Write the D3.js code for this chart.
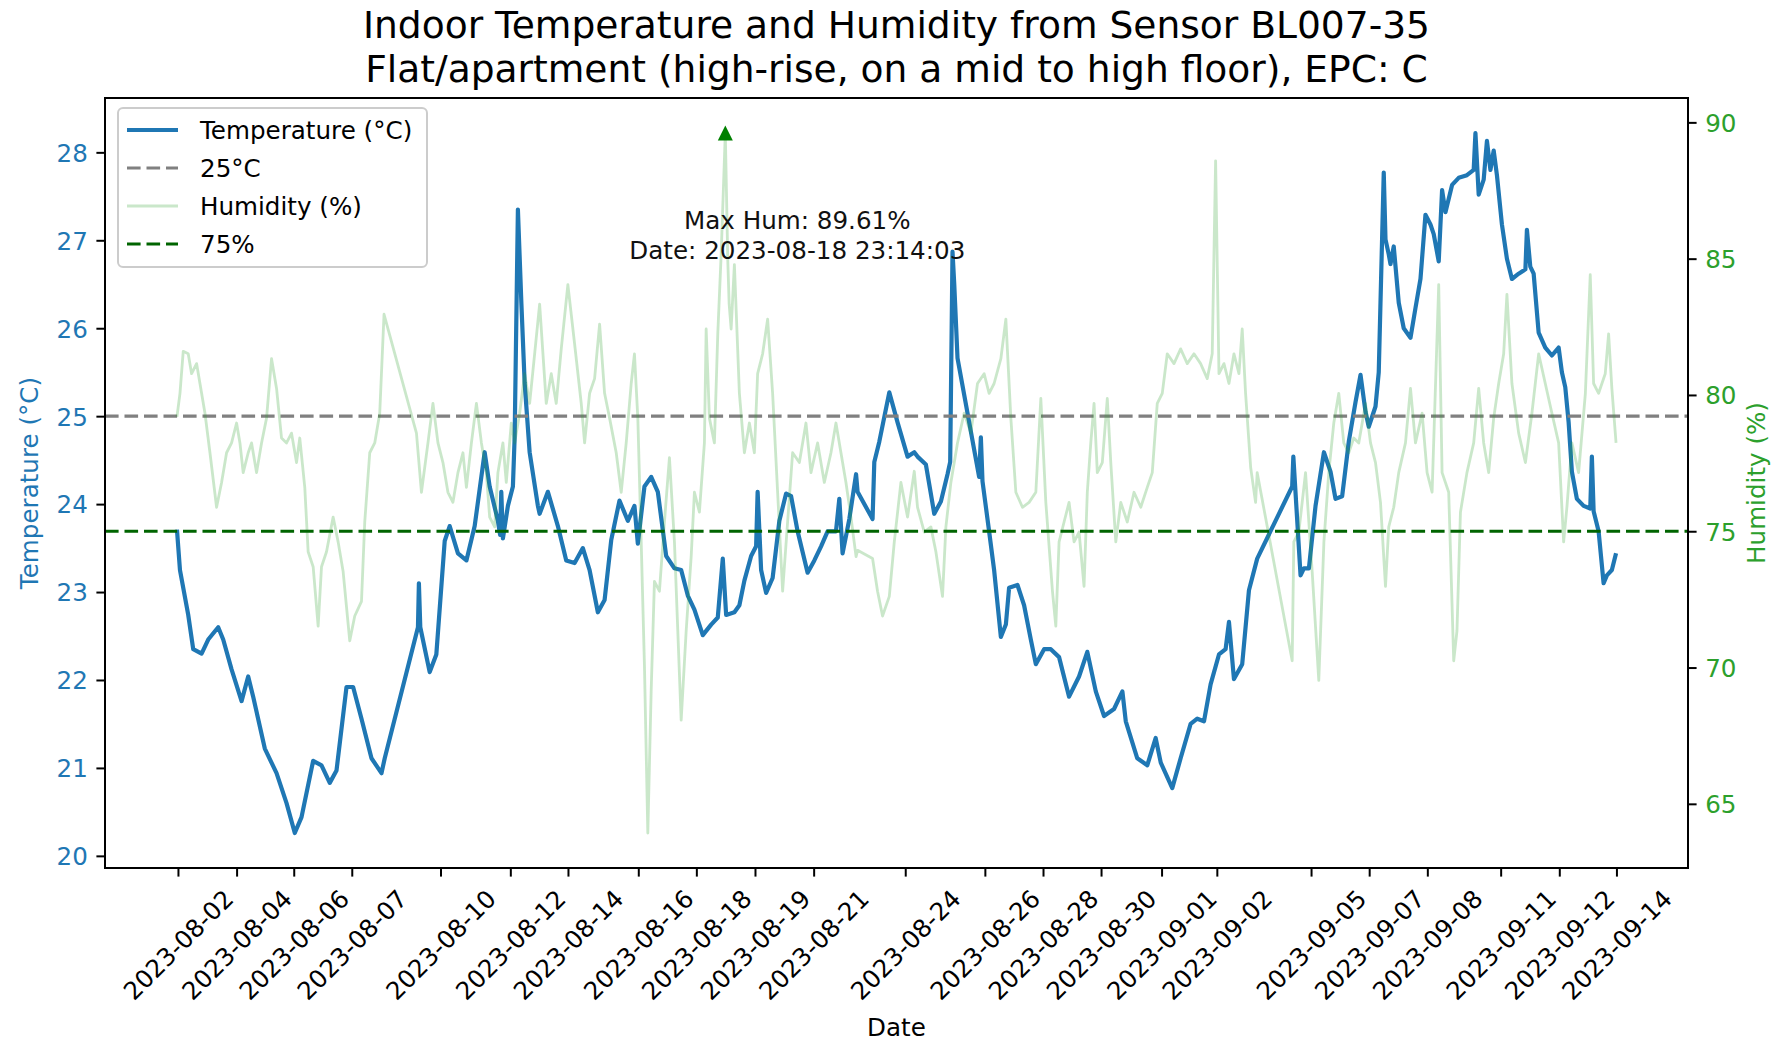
<!DOCTYPE html>
<html><head><meta charset="utf-8">
<script src="https://cdn.jsdelivr.net/npm/d3@7"></script>
<style>
body{margin:0;background:#fff}
svg{display:block}
text{font-family:"DejaVu Sans",sans-serif}
</style>
</head><body>
<svg id="chart" width="1772" height="1041"></svg>
<script>
// ---------------- data ----------------
const titleLines = ["Indoor Temperature and Humidity from Sensor BL007-35",
                    "Flat/apartment (high-rise, on a mid to high floor), EPC: C"];
const year = "2023";

// temperature (°C) readings: [MM-DD HH:MM, value]
const temperature = [
["08-02 14:00",23.71],["08-02 16:10",23.25],["08-02 22:05",22.74],["08-03 01:40",22.35],["08-03 07:40",22.30],
["08-03 12:25",22.46],["08-03 19:35",22.60],["08-03 23:10",22.46],["08-04 05:10",22.12],["08-04 12:20",21.76],
["08-04 17:05",22.04],["08-04 20:40",21.81],["08-05 05:00",21.22],["08-05 13:25",20.94],["08-05 20:35",20.60],
["08-06 02:30",20.26],["08-06 07:20",20.44],["08-06 15:40",21.08],["08-06 21:40",21.03],["08-07 03:35",20.83],
["08-07 08:25",20.97],["08-07 15:35",21.92],["08-07 20:20",21.92],["08-08 02:20",21.56],["08-08 09:30",21.11],
["08-08 16:40",20.94],["08-08 19:00",21.11],["08-09 18:50",22.60],["08-09 19:30",23.10],["08-09 20:30",22.60],
["08-10 03:15",22.09],["08-10 08:00",22.29],["08-10 14:00",23.58],["08-10 17:35",23.75],["08-10 23:30",23.44],
["08-11 05:35",23.36],["08-11 11:30",23.75],["08-11 18:40",24.59],["08-11 22:15",24.20],["08-12 04:10",23.81],
["08-12 05:45",23.65],["08-12 06:35",24.14],["08-12 07:45",23.61],["08-12 11:20",23.98],["08-12 14:55",24.20],
["08-12 16:10",24.76],["08-12 18:30",27.35],["08-12 21:00",26.28],["08-12 23:20",25.38],["08-13 02:55",24.59],
["08-13 08:50",23.98],["08-13 10:05",23.89],["08-13 16:00",24.14],["08-13 23:10",23.75],["08-14 05:10",23.36],
["08-14 11:10",23.33],["08-14 17:05",23.50],["08-14 21:55",23.25],["08-15 03:50",22.77],["08-15 08:40",22.91],
["08-15 13:25",23.59],["08-15 19:20",24.04],["08-16 01:20",23.81],["08-16 06:05",23.98],["08-16 08:30",23.55],
["08-16 13:15",24.20],["08-16 18:05",24.31],["08-16 22:50",24.14],["08-17 04:50",23.41],["08-17 10:45",23.27],
["08-17 15:35",23.25],["08-17 20:20",22.96],["08-18 01:05",22.80],["08-18 07:05",22.51],["08-18 13:05",22.63],
["08-18 17:50",22.71],["08-18 21:25",23.38],["08-18 23:50",22.74],["08-19 05:45",22.77],["08-19 09:20",22.85],
["08-19 12:55",23.13],["08-19 17:45",23.41],["08-19 21:20",23.52],["08-19 22:25",24.14],["08-20 00:55",23.25],
["08-20 04:30",22.99],["08-20 09:10",23.16],["08-20 14:00",23.81],["08-20 18:50",24.12],["08-20 22:25",24.09],
["08-21 03:05",23.69],["08-21 10:15",23.22],["08-21 15:05",23.36],["08-21 19:55",23.52],["08-22 00:35",23.69],
["08-22 06:35",23.69],["08-22 09:00",24.06],["08-22 11:20",23.44],["08-22 16:10",23.83],["08-22 21:00",24.34],
["08-22 22:05",24.14],["08-23 08:50",23.83],["08-23 10:05",24.48],["08-23 13:40",24.71],["08-23 20:50",25.27],
["08-24 02:45",24.93],["08-24 09:55",24.54],["08-24 14:45",24.59],["08-24 17:05",24.54],["08-24 23:05",24.45],
["08-25 05:05",23.89],["08-25 09:50",24.03],["08-25 14:35",24.34],["08-25 16:30",24.48],["08-25 18:10",26.87],
["08-25 19:25",26.50],["08-25 21:45",25.66],["08-26 13:15",24.31],["08-26 14:30",24.76],["08-26 15:40",24.26],
["08-26 20:25",23.69],["08-27 00:00",23.25],["08-27 04:50",22.49],["08-27 08:25",22.63],["08-27 10:45",23.05],
["08-27 16:45",23.08],["08-27 21:30",22.85],["08-28 02:20",22.46],["08-28 05:55",22.18],["08-28 11:50",22.35],
["08-28 16:40",22.35],["08-28 22:35",22.26],["08-29 05:45",21.81],["08-29 12:55",22.04],["08-29 18:50",22.32],
["08-30 00:55",21.87],["08-30 06:50",21.59],["08-30 14:00",21.67],["08-30 20:00",21.87],["08-30 22:25",21.53],
["08-31 06:40",21.11],["08-31 13:50",21.03],["08-31 19:50",21.34],["08-31 23:30",21.06],["09-01 07:45",20.77],
["09-01 13:45",21.11],["09-01 20:55",21.50],["09-02 01:40",21.56],["09-02 06:30",21.53],["09-02 11:15",21.95],
["09-02 17:15",22.29],["09-02 22:00",22.35],["09-03 00:25",22.66],["09-03 04:00",22.01],["09-03 09:55",22.18],
["09-03 14:45",23.02],["09-03 20:40",23.38],["09-04 21:45",24.20],["09-04 22:35",24.54],["09-05 03:45",23.19],
["09-05 06:10",23.27],["09-05 09:45",23.27],["09-05 14:30",23.98],["09-05 20:30",24.59],["09-06 01:15",24.37],
["09-06 04:50",24.06],["09-06 09:35",24.09],["09-06 14:20",24.71],["09-06 19:10",25.16],["09-06 22:45",25.47],
["09-07 02:20",25.05],["09-07 04:40",24.88],["09-07 09:30",25.11],["09-07 11:50",25.50],["09-07 15:25",27.77],
["09-07 16:40",27.01],["09-07 19:00",26.84],["09-07 20:15",26.73],["09-07 22:35",26.93],["09-08 02:10",26.29],
["09-08 05:45",26.00],["09-08 10:35",25.89],["09-08 14:10",26.23],["09-08 17:45",26.56],["09-08 21:20",27.29],
["09-09 00:55",27.18],["09-09 03:15",27.07],["09-09 06:50",26.76],["09-09 09:15",27.57],["09-09 11:40",27.32],
["09-09 16:25",27.63],["09-09 21:10",27.71],["09-10 03:05",27.74],["09-10 07:55",27.80],["09-10 09:10",28.22],
["09-10 11:30",27.52],["09-10 15:05",27.69],["09-10 17:25",28.13],["09-10 19:55",27.80],["09-10 22:15",28.02],
["09-11 00:35",27.74],["09-11 04:10",27.18],["09-11 07:45",26.79],["09-11 11:20",26.56],["09-11 16:10",26.62],
["09-11 21:00",26.67],["09-11 22:05",27.12],["09-12 00:30",26.70],["09-12 02:55",26.62],["09-12 06:30",25.95],
["09-12 11:15",25.78],["09-12 16:00",25.69],["09-12 20:50",25.78],["09-12 23:10",25.50],["09-13 01:35",25.33],
["09-13 04:00",24.93],["09-13 06:20",24.37],["09-13 09:55",24.06],["09-13 14:45",23.98],["09-13 19:30",23.95],
["09-13 20:40",24.54],["09-13 21:55",23.92],["09-14 01:30",23.69],["09-14 05:05",23.10],["09-14 07:25",23.19],
["09-14 11:00",23.25],["09-14 14:00",23.44]
];

// relative humidity (%) readings: [MM-DD HH:MM(:SS), value]
const humidity = [
["08-02 14:00",79.20],["08-02 16:10",80.06],["08-02 18:30",81.60],["08-02 22:05",81.51],["08-03 00:30",80.78],
["08-03 04:05",81.15],["08-03 06:30",80.42],["08-03 10:05",79.33],["08-03 13:40",77.88],["08-03 18:25",75.88],
["08-03 22:00",76.79],["08-04 01:35",77.88],["08-04 05:10",78.24],["08-04 08:45",78.97],["08-04 11:10",78.24],
["08-04 13:30",77.15],["08-04 17:05",77.88],["08-04 19:30",78.24],["08-04 23:05",77.15],["08-05 02:40",78.24],
["08-05 06:15",79.15],["08-05 09:50",81.33],["08-05 13:25",80.24],["08-05 17:00",78.42],["08-05 20:35",78.24],
["08-06 00:10",78.60],["08-06 03:45",77.52],["08-06 06:05",78.42],["08-06 09:40",76.61],["08-06 12:05",74.25],
["08-06 15:40",73.70],["08-06 19:15",71.52],["08-06 21:40",73.70],["08-07 01:15",74.25],["08-07 06:00",75.52],
["08-07 09:35",74.61],["08-07 13:10",73.52],["08-07 17:55",70.98],["08-07 21:30",71.89],["08-08 02:20",72.43],
["08-08 04:40",75.34],["08-08 08:15",77.88],["08-08 11:50",78.24],["08-08 15:25",79.33],["08-08 18:30",82.96],
["08-09 17:45",78.60],["08-09 21:20",76.43],["08-10 02:00",78.24],["08-10 05:35",79.69],["08-10 09:10",78.24],
["08-10 12:45",77.52],["08-10 16:20",76.43],["08-10 19:55",76.06],["08-10 23:30",77.15],["08-11 03:05",77.88],
["08-11 05:35",76.61],["08-11 09:10",78.24],["08-11 12:45",79.69],["08-11 16:20",78.24],["08-11 19:50",77.15],
["08-11 22:15",75.52],["08-12 01:50",75.16],["08-12 04:10",77.15],["08-12 07:45",78.24],["08-12 10:10",76.79],
["08-12 13:45",78.97],["08-12 16:10",78.24],["08-12 19:45",79.33],["08-12 23:20",80.78],["08-13 02:55",79.69],
["08-13 06:30",81.51],["08-13 10:05",83.33],["08-13 14:50",79.69],["08-13 18:25",80.78],["08-13 22:00",79.69],
["08-14 01:35",81.69],["08-14 06:20",84.05],["08-14 11:10",81.87],["08-14 15:55",79.69],["08-14 18:20",78.24],
["08-14 21:55",80.06],["08-15 01:30",80.60],["08-15 05:05",82.60],["08-15 08:40",80.06],["08-15 12:15",79.15],
["08-15 17:00",77.88],["08-15 20:35",76.43],["08-16 00:10",78.24],["08-16 03:45",80.42],["08-16 06:05",81.51],
["08-16 08:30",79.15],["08-16 10:55",74.61],["08-16 13:15",70.07],["08-16 15:40",63.93],["08-16 18:05",69.17],
["08-16 20:25",73.16],["08-17 00:00",72.80],["08-17 03:35",75.34],["08-17 07:10",77.70],["08-17 10:45",74.61],
["08-17 15:35",68.07],["08-17 19:10",71.34],["08-17 22:45",74.07],["08-18 01:05",76.43],["08-18 04:40",75.70],
["08-18 08:15",78.24],["08-18 09:30",82.42],["08-18 11:50",79.15],["08-18 15:25",78.24],["08-18 17:50",82.24],
["08-18 20:15",85.14],["08-18 23:14:03",89.61],["08-19 01:00",84.96],["08-19 02:00",83.33],["08-19 03:25",82.42],
["08-19 05:45",84.78],["08-19 09:20",80.06],["08-19 12:55",77.88],["08-19 16:30",78.97],["08-19 20:05",77.88],
["08-19 22:25",80.78],["08-20 02:00",81.51],["08-20 05:35",82.78],["08-20 09:10",80.06],["08-20 12:45",76.43],
["08-20 16:20",72.80],["08-20 19:55",75.34],["08-20 23:30",77.88],["08-21 04:20",77.52],["08-21 09:05",78.97],
["08-21 12:40",77.15],["08-21 17:25",78.24],["08-21 22:15",76.79],["08-22 03:00",77.88],["08-22 06:35",78.97],
["08-22 10:10",77.88],["08-22 13:45",76.79],["08-22 17:20",75.52],["08-22 21:00",74.07],["08-22 22:05",74.30],
["08-23 08:50",74.00],["08-23 12:25",72.80],["08-23 16:00",71.89],["08-23 20:50",72.61],["08-24 00:25",74.61],
["08-24 05:10",76.79],["08-24 09:55",75.52],["08-24 14:45",77.20],["08-24 17:05",75.88],["08-24 21:55",74.97],
["08-25 02:40",75.16],["08-25 06:15",74.25],["08-25 11:00",72.61],["08-25 13:25",75.16],["08-25 17:00",76.79],
["08-25 21:45",78.24],["08-26 02:30",79.33],["08-26 07:20",78.60],["08-26 12:05",80.42],["08-26 16:50",80.78],
["08-26 20:25",80.06],["08-27 00:00",80.42],["08-27 04:50",81.33],["08-27 08:25",82.78],["08-27 12:00",79.15],
["08-27 15:35",76.43],["08-27 20:20",75.88],["08-28 01:05",76.06],["08-28 05:55",76.43],["08-28 09:30",79.87],
["08-28 13:05",76.06],["08-28 17:50",72.80],["08-28 20:15",71.52],["08-28 22:35",74.61],["08-29 02:10",75.34],
["08-29 05:45",76.06],["08-29 09:20",74.61],["08-29 12:55",74.97],["08-29 16:30",72.98],["08-29 18:50",76.43],
["08-29 21:20",78.24],["08-29 23:40",79.69],["08-30 02:00",77.15],["08-30 05:35",77.52],["08-30 09:10",79.87],
["08-30 11:40",77.52],["08-30 15:15",74.61],["08-30 18:50",76.06],["08-30 23:30",75.34],["08-31 04:20",76.43],
["08-31 09:10",75.88],["08-31 13:50",76.61],["08-31 17:25",77.15],["08-31 21:00",79.69],["09-01 00:35",80.06],
["09-01 04:10",81.51],["09-01 09:00",81.15],["09-01 13:45",81.69],["09-01 18:30",81.15],["09-01 23:20",81.51],
["09-02 04:05",81.15],["09-02 08:50",80.60],["09-02 12:25",81.51],["09-02 14:50",88.59],["09-02 17:15",80.78],
["09-02 20:50",81.15],["09-03 00:25",80.42],["09-03 04:00",81.51],["09-03 07:35",80.78],["09-03 09:55",82.42],
["09-03 12:20",80.06],["09-03 16:00",77.33],["09-03 19:30",76.06],["09-03 20:40",77.15],["09-04 21:45",70.25],
["09-04 22:55",74.61],["09-05 02:30",74.97],["09-05 07:20",77.15],["09-05 12:05",73.52],["09-05 16:50",69.53],
["09-05 20:30",74.61],["09-06 00:00",77.15],["09-06 03:35",78.97],["09-06 07:10",80.06],["09-06 10:45",78.24],
["09-06 14:20",77.88],["09-06 17:55",78.42],["09-06 21:30",78.24],["09-07 02:20",79.69],["09-07 05:55",78.24],
["09-07 09:30",77.52],["09-07 13:05",76.06],["09-07 16:40",72.98],["09-07 19:00",75.16],["09-07 22:35",75.88],
["09-08 02:10",77.15],["09-08 07:00",78.24],["09-08 10:35",80.24],["09-08 14:10",78.24],["09-08 18:55",79.33],
["09-08 22:30",77.15],["09-09 02:05",76.43],["09-09 06:50",84.05],["09-09 09:15",77.15],["09-09 14:00",76.43],
["09-09 17:35",70.25],["09-09 19:55",71.34],["09-09 22:25",75.70],["09-10 03:05",77.15],["09-10 07:55",78.24],
["09-10 11:30",80.24],["09-10 15:05",78.24],["09-10 18:40",77.15],["09-10 22:15",79.15],["09-11 01:50",80.42],
["09-11 05:25",81.51],["09-11 07:45",83.69],["09-11 11:20",80.42],["09-11 16:10",78.60],["09-11 21:00",77.52],
["09-12 01:40",79.33],["09-12 06:30",81.51],["09-12 11:15",80.42],["09-12 16:00",79.33],["09-12 20:50",78.24],
["09-13 00:25",74.61],["09-13 02:45",75.88],["09-13 06:20",78.24],["09-13 11:10",77.15],["09-13 16:00",80.06],
["09-13 19:30",84.41],["09-13 21:55",80.42],["09-14 01:30",80.06],["09-14 06:15",80.78],["09-14 08:40",82.24],
["09-14 11:00",80.24],["09-14 14:00",78.24]
];

// x tick positions (sample timestamps) and their labels
const xTickTimes = ["08-02 14:43","08-04 08:46","08-06 01:45","08-07 19:22","08-10 10:59","08-12 13:04",
  "08-14 06:24","08-16 08:50","08-18 02:28","08-19 20:31","08-21 14:35","08-24 08:16","08-26 17:22",
  "08-28 11:04","08-30 04:41","09-01 00:05","09-02 15:43","09-05 11:17","09-07 04:58","09-08 22:40",
  "09-11 03:15","09-12 21:18","09-14 14:17"];
const tempTicks = [20,21,22,23,24,25,26,27,28];
const humTicks = [65,70,75,80,85,90];
const tempThreshold = 25;
const humThreshold = 75;
const legendLabels = ["Temperature (°C)","25°C","Humidity (%)","75%"];
const axisLabels = {x:"Date", yLeft:"Temperature (°C)", yRight:"Humidity (%)"};

// ---------------- layout ----------------
const W = 1772, H = 1041;
const L = 105, R = 1688, T = 98, B = 868;
const FS = 24.6;
const C = {blue:"#1f77b4", green:"#2ca02c", gray:"#808080", dark:"#006400", marker:"#008000"};
const dash = "13.6,5.9";

const p1 = d3.timeParse("%Y-%m-%d %H:%M:%S"), p2 = d3.timeParse("%Y-%m-%d %H:%M");
const parseT = s => p1(year + "-" + s) || p2(year + "-" + s);
const tData = temperature.map(d => ({t: parseT(d[0]), v: d[1]}));
const hData = humidity.map(d => ({t: parseT(d[0]), v: d[1]}));

function pad(ext) { const r = ext[1] - ext[0]; return [ext[0] - 0.05 * r, ext[1] + 0.05 * r]; }
const tExt = d3.extent(tData.concat(hData), d => d.t);
const span = tExt[1] - tExt[0];
const x = d3.scaleTime().domain([new Date(+tExt[0] - 0.05 * span), new Date(+tExt[1] + 0.05 * span)]).range([L, R]);
const yT = d3.scaleLinear().domain(pad(d3.extent(tData, d => d.v))).range([B, T]);
const yH = d3.scaleLinear().domain(pad(d3.extent(hData, d => d.v))).range([B, T]);

const svg = d3.select("#chart");
svg.append("rect").attr("width", W).attr("height", H).attr("fill", "#fff");
svg.append("clipPath").attr("id", "clip").append("rect").attr("x", L).attr("y", T).attr("width", R - L).attr("height", B - T);
const plot = svg.append("g").attr("clip-path", "url(#clip)");

// temperature line
plot.append("path").datum(tData)
  .attr("d", d3.line().x(d => x(d.t)).y(d => yT(d.v)))
  .attr("fill", "none").attr("stroke", C.blue).attr("stroke-width", 4.2).attr("stroke-linejoin", "round");
// 25°C line
plot.append("line").attr("x1", L).attr("x2", R).attr("y1", yT(tempThreshold)).attr("y2", yT(tempThreshold))
  .attr("stroke", C.gray).attr("stroke-width", 3.2).attr("stroke-dasharray", dash);
// humidity line
plot.append("path").datum(hData)
  .attr("d", d3.line().x(d => x(d.t)).y(d => yH(d.v)))
  .attr("fill", "none").attr("stroke", C.green).attr("stroke-opacity", 0.25).attr("stroke-width", 2.8).attr("stroke-linejoin", "round");
// 75% line
plot.append("line").attr("x1", L).attr("x2", R).attr("y1", yH(humThreshold)).attr("y2", yH(humThreshold))
  .attr("stroke", C.dark).attr("stroke-width", 3.2).attr("stroke-dasharray", dash);

// max humidity marker + annotation
const maxH = hData.reduce((a, b) => b.v > a.v ? b : a);
const mx = x(maxH.t), my = yH(maxH.v), ms = 15;
svg.append("path").attr("d", `M${mx},${my - ms / 2}L${mx + ms / 2},${my + ms / 2}L${mx - ms / 2},${my + ms / 2}Z`).attr("fill", C.marker);
const fmtFull = d3.timeFormat("%Y-%m-%d %H:%M:%S");
const ann = svg.append("text").attr("text-anchor", "middle").attr("font-size", FS).attr("fill", "#111");
ann.append("tspan").attr("x", mx + 72).attr("y", my + 96).text(`Max Hum: ${maxH.v.toFixed(2)}%`);
ann.append("tspan").attr("x", mx + 72).attr("y", my + 126).text(`Date: ${fmtFull(maxH.t)}`);

// spines
svg.append("rect").attr("x", L).attr("y", T).attr("width", R - L).attr("height", B - T)
  .attr("fill", "none").attr("stroke", "#000").attr("stroke-width", 2);

// axes
const TL = 8.6, TP = 8.6;
function styleAxis(g, color) {
  g.select(".domain").remove();
  g.selectAll(".tick line").attr("stroke", "#000").attr("stroke-width", 2);
  g.selectAll(".tick text").attr("font-size", FS).attr("fill", color).attr("font-family", "DejaVu Sans");
}
const gL = svg.append("g").attr("transform", `translate(${L},0)`)
  .call(d3.axisLeft(yT).tickValues(tempTicks).tickSize(TL).tickPadding(TP).tickFormat(d3.format("d")));
styleAxis(gL, C.blue);
const gR = svg.append("g").attr("transform", `translate(${R},0)`)
  .call(d3.axisRight(yH).tickValues(humTicks).tickSize(TL).tickPadding(TP).tickFormat(d3.format("d")));
styleAxis(gR, C.green);
gL.selectAll(".tick text").attr("dy", "0.36em");
gR.selectAll(".tick text").attr("dy", "0.36em");

const fmtDay = d3.timeFormat("%Y-%m-%d");
const tickDates = xTickTimes.map(parseT);
const gB = svg.append("g").attr("transform", `translate(0,${B})`)
  .call(d3.axisBottom(x).tickValues(tickDates).tickSize(TL).tickFormat(fmtDay));
styleAxis(gB, "#000");
gB.selectAll(".tick text")
  .attr("text-anchor", "middle").attr("y", 0).attr("dy", 8.5)
  .attr("transform", "translate(0,77) rotate(-45)");

// axis labels
svg.append("text").attr("x", (L + R) / 2).attr("y", 1036).attr("text-anchor", "middle")
  .attr("font-size", FS).attr("fill", "#000").text(axisLabels.x);
svg.append("text").attr("transform", `translate(38,${(T + B) / 2}) rotate(-90)`).attr("text-anchor", "middle")
  .attr("font-size", FS).attr("fill", C.blue).text(axisLabels.yLeft);
svg.append("text").attr("transform", `translate(1765,${(T + B) / 2}) rotate(-90)`).attr("text-anchor", "middle")
  .attr("font-size", FS).attr("fill", C.green).text(axisLabels.yRight);

// title
const title = svg.append("text").attr("text-anchor", "middle").attr("font-size", 37.6).attr("fill", "#000");
titleLines.forEach((s, i) => title.append("tspan").attr("x", (L + R) / 2).attr("y", 38 + i * 44).text(s));

// legend
const lg = svg.append("g");
lg.append("rect").attr("x", 118).attr("y", 108).attr("width", 309).attr("height", 159).attr("rx", 5)
  .attr("fill", "#fff").attr("fill-opacity", 0.8).attr("stroke", "#cccccc").attr("stroke-width", 2);
const handles = [
  {c: C.blue, dash: null, op: 1, w: 4.2},
  {c: C.gray, dash: dash, op: 1, w: 3.2},
  {c: C.green, dash: null, op: 0.25, w: 2.8},
  {c: C.dark, dash: dash, op: 1, w: 3.2}
];
legendLabels.forEach((s, i) => {
  const yy = 130 + i * 38;
  const ln = lg.append("line").attr("x1", 127).attr("x2", 178).attr("y1", yy).attr("y2", yy)
    .attr("stroke", handles[i].c).attr("stroke-opacity", handles[i].op).attr("stroke-width", handles[i].w);
  if (handles[i].dash) ln.attr("stroke-dasharray", handles[i].dash);
  lg.append("text").attr("x", 200).attr("y", yy + 9).attr("font-size", FS).attr("fill", "#000").text(s);
});
</script>
</body></html>
